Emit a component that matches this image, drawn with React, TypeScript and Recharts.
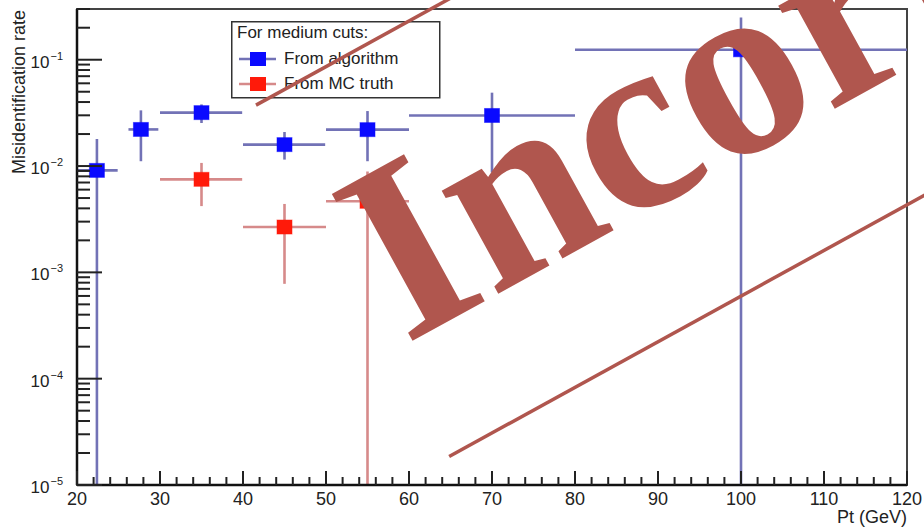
import React from 'react';
import { ScatterChart, Scatter, XAxis, YAxis, ErrorBar, ReferenceArea, Legend } from 'recharts';

// ---- data ----
const algoX = [22.4, 27.7, 35.0, 45.0, 55.0, 70.0, 100.0];
const algoXLow = [20.0, 26.2, 30.0, 40.0, 50.0, 60.0, 80.0];
const algoXHigh = [24.9, 29.8, 39.9, 49.9, 60.0, 80.0, 120.0];
const algoY = [0.0091, 0.0221, 0.0318, 0.0159, 0.022, 0.0299, 0.124];
const algoYLow = [1e-5, 0.0111, 0.0254, 0.0115, 0.0111, 0.0087, 1e-5];
const algoYHigh = [0.018, 0.0334, 0.038, 0.0209, 0.0329, 0.049, 0.25];

const mcX = [35.0, 45.0, 55.0];
const mcXLow = [30.0, 40.0, 50.0];
const mcXHigh = [39.9, 50.0, 60.0];
const mcY = [0.0075, 0.00267, 0.00466];
const mcYLow = [0.0042, 0.00078, 1e-5];
const mcYHigh = [0.0107, 0.0044, 0.0089];

const xMajorTicks = [20, 30, 40, 50, 60, 70, 80, 90, 100, 110, 120];
const yDecades = [-5, -4, -3, -2, -1];
const Y_MIN = 1e-5;
const Y_MAX = 0.3;

const legendTitle = 'For medium cuts:';
const algoName = 'From algorithm';
const mcName = 'From MC truth';
const legendOrder = [algoName, mcName];
const xTitle = 'Pt (GeV)';
const yTitle = 'Misidentification rate';
const stamp = 'Incorrect';

// ---- build tables ----
const build = (xs: number[], xl: number[], xh: number[], ys: number[], yl: number[], yh: number[]) =>
  xs.map((x, i) => ({
    x,
    y: ys[i],
    xErr: [x - xl[i], xh[i] - x],
    yErr: [ys[i] - yl[i], yh[i] - ys[i]],
  }));

const algoData = build(algoX, algoXLow, algoXHigh, algoY, algoYLow, algoYHigh);
const mcData = build(mcX, mcXLow, mcXHigh, mcY, mcYLow, mcYHigh);

const xTicks: number[] = [];
for (let v = 20; v <= 120; v += 2) xTicks.push(v);
const yTicks: number[] = [];
yDecades.forEach((e) => {
  for (let m = 1; m <= 9; m++) {
    const v = parseFloat((m * Math.pow(10, e)).toPrecision(6));
    if (v <= Y_MAX) yTicks.push(v);
  }
});

const FONT = '"Liberation Sans", Arial, Helvetica, sans-serif';
const ALGO_MARK = '#0a0aff';
const ALGO_BAR = '#7272b6';
const MC_MARK = '#ff1a0a';
const MC_BAR = '#d68a8a';
const STAMP = '#b0564e';

const XTick = (props: any) => {
  const { x, y, payload } = props;
  const v = payload.value;
  const major = xMajorTicks.includes(v);
  return (
    <g>
      <line x1={x} x2={x} y1={y} y2={y - (major ? 14 : 8)} stroke="#222" strokeWidth={2} />
      {major && (
        <text x={x} y={y + 20} textAnchor="middle" fontSize={18} fontFamily={FONT} fill="#222">
          {v}
        </text>
      )}
    </g>
  );
};

const YTick = (props: any) => {
  const { x, y, payload } = props;
  const v = payload.value;
  const lg = Math.log10(v);
  const e = Math.round(lg);
  const major = Math.abs(lg - e) < 1e-6;
  return (
    <g>
      <line x1={x} x2={x + (major ? 25 : 13)} y1={y} y2={y} stroke="#222" strokeWidth={2} />
      {major && (
        <text x={x - 14} y={y + 8} textAnchor="end" fontSize={17} fontFamily={FONT} fill="#222">
          <tspan>10</tspan>
          <tspan dy={-8} dx={1} fontSize={11}>{'\u2212' + Math.abs(e)}</tspan>
        </text>
      )}
    </g>
  );
};

const Square = (color: string) => (props: any) => {
  const { cx, cy } = props;
  if (cx == null || cy == null) return <g />;
  return <rect x={cx - 7.5} y={cy - 7} width={15} height={14} fill={color} stroke={color} strokeOpacity={0.5} strokeWidth={1} />;
};

const barColors: Record<string, string> = { [algoName]: ALGO_BAR, [mcName]: MC_BAR };

const LegendBox = (props: any) => {
  const payload = [...(props.payload || [])].sort(
    (a: any, b: any) => legendOrder.indexOf(a.value) - legendOrder.indexOf(b.value)
  );
  return (
    <svg width={210} height={78} style={{ display: 'block' }}>
      <rect x={0.75} y={0.75} width={208} height={76} fill="#fff" stroke="#333" strokeWidth={1.5} />
      <text x={6} y={16.5} fontSize={17} fontFamily={FONT} fill="#222">{legendTitle}</text>
      {payload.map((p: any, i: number) => {
        const cy = 38 + i * 25;
        return (
          <g key={i}>
            <line x1={8} x2={45} y1={cy} y2={cy} stroke={barColors[p.value] || p.color} strokeWidth={2.5} />
            <rect x={19} y={cy - 7} width={16} height={14} fill={p.color} />
            <text x={53} y={cy + 5} fontSize={17} fontFamily={FONT} fill="#222">{p.value}</text>
          </g>
        );
      })}
    </svg>
  );
};

const YTitle = (props: any) => {
  const vb = props.viewBox || { x: 0, y: 9 };
  const x = vb.x + 25;
  const y = 10;
  return (
    <text x={x} y={y} transform={`rotate(-90 ${x} ${y})`} textAnchor="end" fontSize={18} fontFamily={FONT} fill="#222">
      {yTitle}
    </text>
  );
};

const XTitle = (props: any) => {
  const vb = props.viewBox || { x: 77, y: 485, width: 830 };
  return (
    <text x={vb.x + vb.width} y={vb.y + 38} textAnchor="end" fontSize={18} fontFamily={FONT} fill="#222">
      {xTitle}
    </text>
  );
};

export default function App() {
  return (
    <div style={{ position: 'absolute', left: 0, top: 0, width: 924, height: 528, background: '#fff', overflow: 'hidden' }}>
      <ScatterChart width={924} height={528} margin={{ top: 9, right: 17, bottom: 0, left: 0 }}>
        <XAxis
          type="number"
          dataKey="x"
          domain={[20, 120]}
          ticks={xTicks}
          interval={0}
          allowDataOverflow
          height={43}
          tickSize={0}
          tickMargin={0}
          tickLine={false}
          axisLine={{ stroke: '#111', strokeWidth: 2.5 }}
          tick={<XTick />}
          label={<XTitle />}
        />
        <YAxis
          type="number"
          dataKey="y"
          scale="log"
          domain={[Y_MIN, Y_MAX]}
          ticks={yTicks}
          interval={0}
          allowDataOverflow
          width={77}
          tickSize={0}
          tickMargin={0}
          tickLine={false}
          axisLine={{ stroke: '#111', strokeWidth: 2.5 }}
          tick={<YTick />}
          label={<YTitle />}
        />
        <ReferenceArea x1={20} x2={120} y1={Y_MIN} y2={Y_MAX} fill="none" fillOpacity={0} stroke="#444" strokeWidth={2} ifOverflow="visible" />
        <Legend
          layout="horizontal"
          verticalAlign="middle"
          align="center"
          wrapperStyle={{ position: 'absolute', left: 231, top: 21, width: 210, height: 78 }}
          content={<LegendBox />}
        />
        <Scatter name={algoName} data={algoData} fill={ALGO_MARK} isAnimationActive={false} shape={Square(ALGO_MARK)}>
          <ErrorBar dataKey="xErr" direction="x" width={0} stroke={ALGO_BAR} strokeWidth={2.6} isAnimationActive={false} />
          <ErrorBar dataKey="yErr" direction="y" width={0} stroke={ALGO_BAR} strokeWidth={2.6} isAnimationActive={false} />
        </Scatter>
        <Scatter name={mcName} data={mcData} fill={MC_MARK} isAnimationActive={false} shape={Square(MC_MARK)}>
          <ErrorBar dataKey="xErr" direction="x" width={0} stroke={MC_BAR} strokeWidth={2.6} isAnimationActive={false} />
          <ErrorBar dataKey="yErr" direction="y" width={0} stroke={MC_BAR} strokeWidth={2.6} isAnimationActive={false} />
        </Scatter>
      </ScatterChart>
      <svg width={924} height={528} style={{ position: 'absolute', left: 0, top: 0, pointerEvents: 'none' }}>
        <g transform="translate(405 345) rotate(-28.8)">
          <line x1={-15} y1={-282} x2={1400} y2={-282} stroke={STAMP} strokeWidth={3.5} />
          <line x1={-15} y1={119} x2={1400} y2={119} stroke={STAMP} strokeWidth={3.5} />
          <text x={0} y={0} fontFamily='"Liberation Serif", "Times New Roman", serif' fontWeight="bold" fontSize={256} fill={STAMP}>
            {stamp}
          </text>
        </g>
      </svg>
    </div>
  );
}
